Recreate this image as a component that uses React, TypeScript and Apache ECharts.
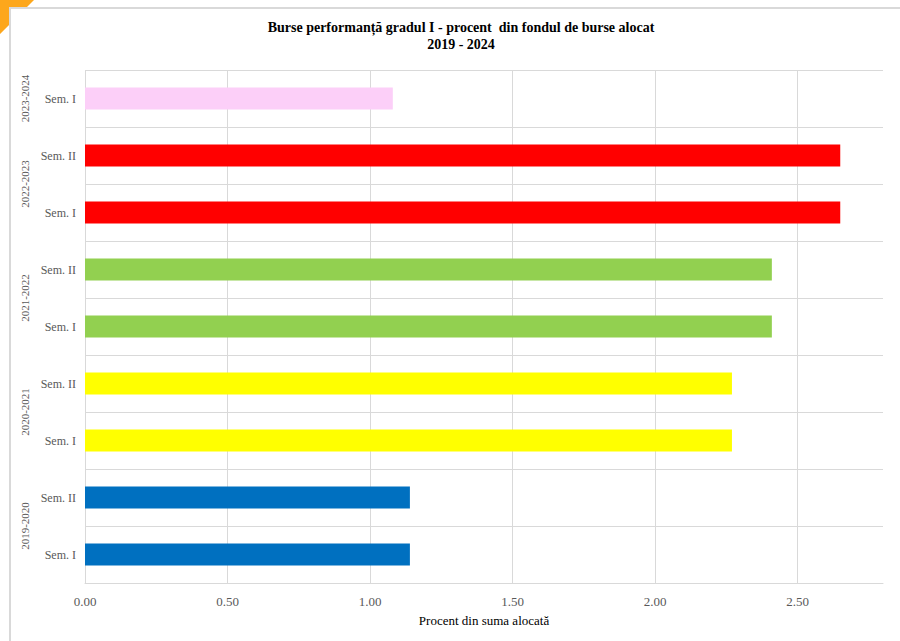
import React, { useEffect, useRef } from "react";
import * as echarts from "echarts";

const semesters = ["Sem. I", "Sem. II", "Sem. I", "Sem. II", "Sem. I", "Sem. II", "Sem. I", "Sem. II", "Sem. I"];
const values = [1.14, 1.14, 2.27, 2.27, 2.41, 2.41, 2.65, 2.65, 1.08];
const barColors = ["#0070C0", "#0070C0", "#FFFF00", "#FFFF00", "#92D050", "#92D050", "#FF0000", "#FF0000", "#FCCFF8"];
const yearLabels = ["2019-2020", "2020-2021", "2021-2022", "2022-2023", "2023-2024"];
const yearPositions = [1, 3, 5, 7, 8.5];
const titleText = "Burse performanță gradul I - procent  din fondul de burse alocat\n2019 - 2024";
const xAxisTitle = "Procent din suma alocată";

const FONT = "'Liberation Serif', 'Times New Roman', serif";
const GRID = "#d9d9d9";

export default function App() {
  const ref = useRef<HTMLDivElement>(null);
  useEffect(() => {
    if (!ref.current) return;
    const chart = echarts.init(ref.current, null, { renderer: "svg" });
    chart.setOption({
      animation: false,
      backgroundColor: "#ffffff",
      textStyle: { fontFamily: FONT },
      graphic: [
        {
          type: "polygon",
          shape: { points: [[0, 0], [34, 0], [26, 8], [10, 8], [10, 24], [0, 34]] },
          style: { fill: "#FDA71C" },
          silent: true,
        },
        {
          type: "rect",
          shape: { x: 10, y: 8, width: 905, height: 650 },
          style: { fill: "none", stroke: GRID, lineWidth: 2 },
          silent: true,
        },
      ],
      title: {
        text: titleText,
        left: 456,
        top: 14,
        textAlign: "center",
        textStyle: { fontFamily: FONT, fontSize: 14, fontWeight: "bold", color: "#000000", lineHeight: 17 },
      },
      grid: { left: 85, right: 17, top: 70, bottom: 58, containLabel: false },
      xAxis: {
        type: "value",
        min: 0,
        max: 2.8,
        interval: 0.5,
        name: xAxisTitle,
        nameLocation: "middle",
        nameGap: 31,
        nameTextStyle: { fontFamily: FONT, fontSize: 13, color: "#000000" },
        axisLine: { show: true, lineStyle: { color: GRID, width: 1 } },
        axisTick: { show: false },
        axisLabel: {
          fontFamily: FONT,
          fontSize: 13,
          color: "#595959",
          margin: 12,
          formatter: (v: number) => v.toFixed(2),
          showMaxLabel: false,
        },
        splitLine: {
          show: true,
          lineStyle: { color: [GRID, GRID, GRID, GRID, GRID, GRID, "rgba(0,0,0,0)"], width: 1 },
        },
      },
      yAxis: [
        {
          type: "category",
          data: semesters,
          axisLine: { show: false },
          axisTick: { show: false },
          axisLabel: { fontFamily: FONT, fontSize: 12, color: "#595959", margin: 9 },
          splitLine: { show: true, lineStyle: { color: GRID, width: 1 } },
        },
        {
          type: "value",
          position: "left",
          min: 0,
          max: 9,
          interval: 0.5,
          axisLine: { show: false },
          axisTick: { show: false },
          splitLine: { show: false },
          axisLabel: {
            fontFamily: FONT,
            fontSize: 11,
            color: "#595959",
            rotate: 90,
            margin: 55,
            showMinLabel: true,
            showMaxLabel: true,
            formatter: (v: number) => {
              const i = yearPositions.indexOf(v);
              return i >= 0 ? yearLabels[i] : "";
            },
          },
        },
      ],
      series: [
        {
          type: "bar",
          yAxisIndex: 0,
          barWidth: 22,
          data: values.map((v, i) => ({ value: v, itemStyle: { color: barColors[i] } })),
        },
      ],
    });
    return () => chart.dispose();
  }, []);
  return <div ref={ref} style={{ position: "fixed", left: 0, top: 0, width: 900, height: 641 }} />;
}
